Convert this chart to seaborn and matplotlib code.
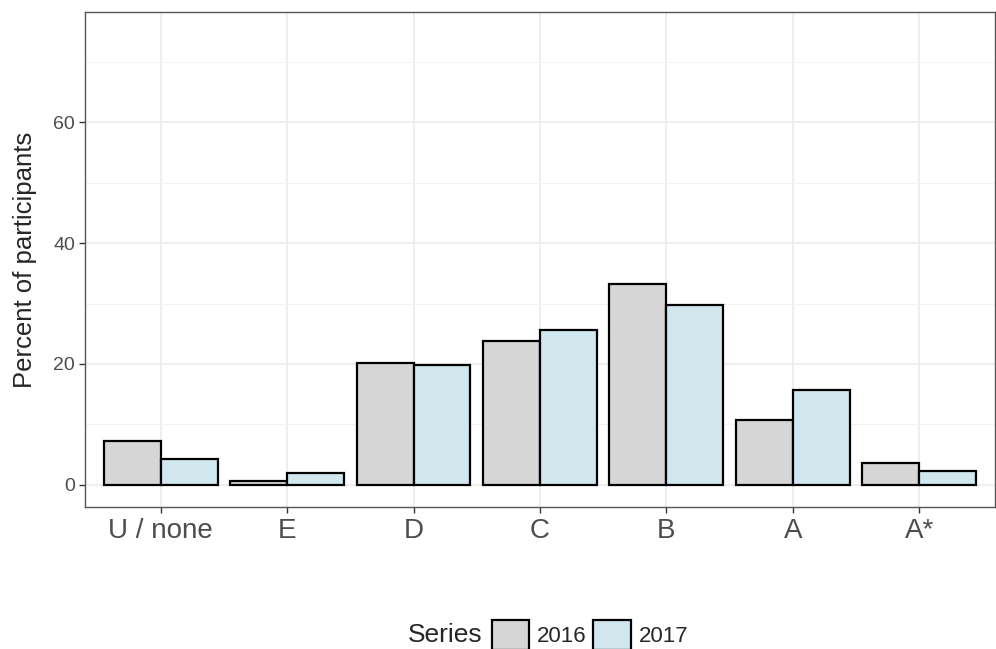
import pandas as pd
import matplotlib.pyplot as plt
import matplotlib.patches as mpatches
from matplotlib.ticker import MultipleLocator
import seaborn as sns

# Data
grades = ['U / none', 'E', 'D', 'C', 'B', 'A', 'A*']
series = ['2016', '2017']
pct_2016 = [7.2, 0.6, 20.2, 23.8, 33.2, 10.7, 3.6]
pct_2017 = [4.2, 1.9, 19.8, 25.6, 29.8, 15.7, 2.3]
colors = ['#d6d6d6', '#cfe7ed']

df = pd.DataFrame({
    'grade': grades * 2,
    'pct': pct_2016 + pct_2017,
    'Series': [series[0]] * len(grades) + [series[1]] * len(grades),
})

sns.set_style('white')
plt.rcParams['font.family'] = ['Liberation Sans', 'DejaVu Sans']

fig = plt.figure(figsize=(9.96, 6.49), dpi=100)
ax = fig.add_axes([0.0853, 0.2188, 0.9137, 0.7627])

sns.barplot(data=df, x='grade', y='pct', hue='Series', order=grades,
            hue_order=series, palette=colors, saturation=1, edgecolor='black',
            linewidth=1.6, width=0.9, ax=ax, legend=False, zorder=3)

ax.set_xlim(-0.6, 6.6)
ax.set_ylim(-3.7, 78.3)
ax.yaxis.set_major_locator(MultipleLocator(20))
ax.yaxis.set_minor_locator(MultipleLocator(10))
ax.grid(which='major', color='#ebebeb', lw=1.2, zorder=0)
ax.grid(which='minor', axis='y', color='#f2f2f2', lw=0.7, zorder=0)
ax.set_axisbelow(True)
for s in ax.spines.values():
    s.set_color('#555555')
    s.set_linewidth(1.0)

ax.tick_params(axis='both', which='major', length=4, width=1, color='#333333',
               left=True, bottom=True)
ax.tick_params(axis='y', labelsize=14, labelcolor='#4d4d4d', pad=3)
ax.tick_params(axis='x', labelsize=20, labelcolor='#4d4d4d', pad=4)
ax.tick_params(which='minor', length=0)
ax.set_xlabel('')
ax.set_ylabel('Percent of participants', fontsize=18.5, labelpad=12)

# Legend at the bottom with title on the left
handles = [mpatches.Patch(facecolor=c, edgecolor='black', lw=1.6) for c in colors]
fig.text(0.447, 0.022, 'Series', fontsize=19, ha='center', va='center')
fig.legend(handles, series, loc='center left', bbox_to_anchor=(0.494, 0.022),
           ncol=2, frameon=False, fontsize=16, handlelength=1.67,
           handleheight=1.67, handletextpad=0.36, columnspacing=0.3,
           borderaxespad=0, borderpad=0)

fig.savefig('out.png', dpi=100)
